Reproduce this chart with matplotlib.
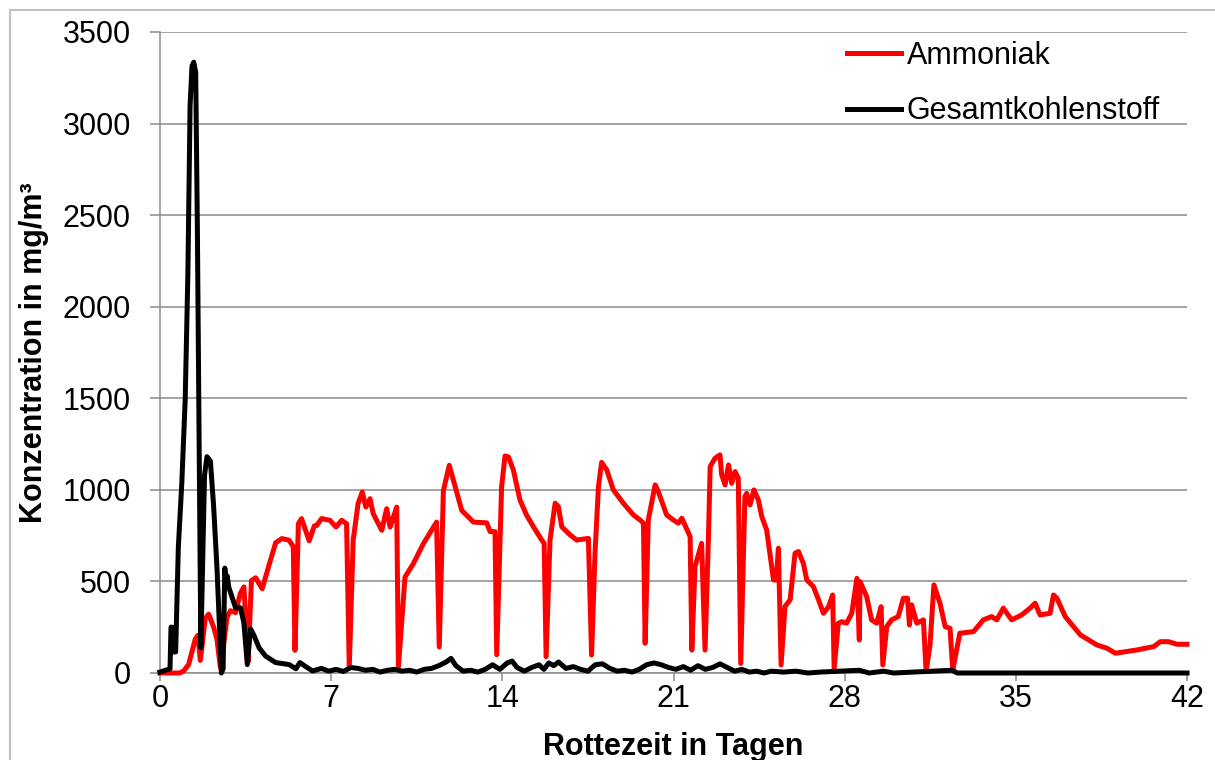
import matplotlib
matplotlib.use("Agg")
import matplotlib.pyplot as plt
from matplotlib.patches import Rectangle

plt.rcParams["font.family"] = ["Liberation Sans", "DejaVu Sans"]

# Ammoniak (red)
nh3_day = [0, 0.8, 0.96, 1.17, 1.44, 1.55, 1.65, 1.85, 1.99, 2.19, 2.33, 2.47, 2.6,
           2.74, 2.88, 3.09, 3.29, 3.43, 3.53, 3.6, 3.74, 3.91, 4.18, 4.46, 4.73, 4.98,
           5.28, 5.45, 5.52, 5.66, 5.79, 6.1, 6.31, 6.41, 6.61, 6.95, 7.2, 7.43, 7.63,
           7.74, 7.9, 8.1, 8.27, 8.42, 8.59, 8.72, 9.07, 9.27, 9.41, 9.68, 9.75, 10.02,
           10.36, 10.77, 11.31, 11.42, 11.59, 11.83, 12.34, 12.82, 13.36, 13.5, 13.7,
           13.77, 13.97, 14.11, 14.25, 14.45, 14.72, 14.99, 15.27, 15.61, 15.71, 15.79,
           15.95, 16.16, 16.29, 16.43, 16.77, 17.04, 17.52, 17.65, 17.79, 17.93, 18.06,
           18.27, 18.54, 18.95, 19.36, 19.63, 19.77, 19.84, 19.97, 20.25, 20.38, 20.72,
           20.99, 21.2, 21.34, 21.68, 21.75, 21.88, 22.15, 22.29, 22.43, 22.5, 22.7,
           22.9, 22.97, 23.11, 23.25, 23.38, 23.52, 23.65, 23.75, 23.92, 23.99, 24.13,
           24.29, 24.47, 24.61, 24.81, 25.09, 25.2, 25.29, 25.4, 25.56, 25.77, 25.97,
           26.11, 26.31, 26.45, 26.72, 26.93, 27.13, 27.34, 27.51, 27.57, 27.74, 27.88,
           28.08, 28.29, 28.5, 28.6, 28.63, 28.9, 29.1, 29.31, 29.49, 29.56, 29.72,
           29.92, 30.19, 30.4, 30.57, 30.65, 30.74, 30.95, 31.22, 31.33, 31.49, 31.65,
           31.9, 32.11, 32.31, 32.42, 32.71, 33.27, 33.67, 34.01, 34.22, 34.49, 34.83,
           35.24, 35.58, 35.79, 35.99, 36.4, 36.54, 36.68, 37.02, 37.64, 38.32, 38.73,
           39.07, 39.96, 40.64, 40.91, 41.25, 41.59, 42]
nh3_val = [0, 0, 10, 46, 184, 206, 69, 298, 321, 252, 184, 30, 150,
           305, 340, 330, 436, 470, 252, 60, 505, 520, 460, 590, 711, 734,
           725, 690, 124, 815, 843, 722, 803, 806, 843, 834, 797, 834, 815,
           33, 724, 925, 988, 906, 952, 870, 779, 897, 797, 906, 33, 524,
           597, 706, 824, 142, 997, 1134, 888, 824, 820, 772, 772,
           100, 1017, 1185, 1180, 1109, 945, 863, 799, 726, 708, 89,
           726, 927, 909, 799, 754, 726, 735, 98, 653, 1017, 1150,
           1109, 1000, 927, 863, 836, 818, 162, 836, 1027, 990, 863,
           836, 818, 845, 745, 125, 581, 708, 125, 745, 1127, 1173,
           1191, 1082, 1027, 1136, 1036, 1100, 1063, 52, 963, 981, 918,
           1000, 945, 854, 781, 508, 508, 681, 44, 363, 400, 654,
           663, 599, 508, 472, 400, 326, 362, 426, 25, 272, 280,
           272, 326, 517, 180, 499, 417, 290, 272, 362, 44, 253,
           290, 308, 408, 408, 262, 372, 272, 290, 7, 153, 481,
           380, 253, 244, 16, 217, 226, 290, 308, 290, 354, 290,
           317, 354, 381, 317, 326, 426, 408, 308, 208, 153, 135,
           108, 126, 144, 171, 171, 157, 157]

# Gesamtkohlenstoff (black)
tc_day = [0, 0.41, 0.45, 0.5, 0.55, 0.64, 0.75, 0.89, 1.03, 1.14, 1.23, 1.31, 1.38,
          1.46, 1.53, 1.6, 1.67, 1.74, 1.82, 1.92, 2.06, 2.19, 2.33, 2.44, 2.51, 2.58,
          2.65, 2.7, 2.75, 2.81, 2.95, 3.09, 3.29, 3.43, 3.57, 3.7, 3.84, 4.05, 4.32,
          4.73, 5.28, 5.56, 5.72, 5.97, 6.24, 6.6, 6.9, 7.2, 7.5, 7.8, 8.1, 8.4, 8.7,
          9.0, 9.3, 9.6, 9.9, 10.2, 10.5, 10.8, 11.1, 11.4, 11.7, 11.9, 12.1, 12.4,
          12.7, 13.0, 13.3, 13.6, 13.9, 14.2, 14.4, 14.6, 14.9, 15.2, 15.5, 15.7, 15.9,
          16.1, 16.3, 16.6, 16.9, 17.2, 17.5, 17.8, 18.1, 18.4, 18.7, 19.0, 19.3, 19.6,
          19.9, 20.2, 20.5, 20.8, 21.1, 21.4, 21.7, 22.0, 22.3, 22.6, 22.9, 23.2, 23.5,
          23.8, 24.1, 24.4, 24.7, 25.0, 25.5, 26.0, 26.5, 27.0, 28.6, 29.0, 29.6, 30.0,
          32.4, 32.6, 42]
tc_val = [5, 23, 250, 250, 115, 115, 688, 1032, 1491, 2179, 3097, 3315, 3335,
          3280, 2409, 1262, 138, 573, 1078, 1181, 1158, 918, 573, 229, 0, 23,
          573, 500, 530, 470, 413, 356, 356, 275, 46, 241, 206, 138, 92,
          57, 46, 23, 57, 34, 11, 25, 10, 20, 8, 30, 25, 15, 20,
          5, 15, 20, 10, 15, 5, 20, 25, 40, 60, 80, 40, 10,
          15, 5, 20, 45, 20, 55, 65, 30, 10, 30, 45, 20, 55,
          40, 60, 25, 35, 20, 10, 45, 50, 25, 10, 15, 5, 20,
          45, 55, 45, 30, 20, 35, 15, 40, 20, 30, 50, 30, 10,
          20, 5, 10, 0, 10, 5, 10, 0, 5, 15, 0, 10, 0,
          15, 0, 0]

x_ticks = [0, 7, 14, 21, 28, 35, 42]
y_ticks = [0, 500, 1000, 1500, 2000, 2500, 3000, 3500]

GRID = "#8c8c8c"
FS = 22
LW = 3.6

fig = plt.figure(figsize=(12.15, 7.6), dpi=100)
ax = fig.add_axes([160 / 1215, 1 - 673 / 760, 1027 / 1215, 641 / 760])

ax.plot(nh3_day, nh3_val, color="#ff0000", linewidth=LW, label="Ammoniak",
        clip_on=False, zorder=3, solid_joinstyle="round")
ax.plot(tc_day, tc_val, color="black", linewidth=LW, label="Gesamtkohlenstoff",
        clip_on=False, zorder=4, solid_joinstyle="round")

ax.set_xlim(0, 42)
ax.set_ylim(0, 3500)
ax.set_xticks(x_ticks)
ax.set_yticks(y_ticks)
ax.tick_params(axis="y", labelsize=FS, length=7, width=1.1, color=GRID, pad=14)
ax.tick_params(axis="x", labelsize=FS, length=6, width=1.1, color=GRID, pad=2)
ax.yaxis.grid(True, color=GRID, linewidth=1.1)
ax.set_axisbelow(True)
for side in ["top", "right"]:
    ax.spines[side].set_visible(False)
for side in ["left", "bottom"]:
    ax.spines[side].set_color(GRID)
    ax.spines[side].set_linewidth(1.1)

ax.set_xlabel("Rottezeit in Tagen", fontsize=FS, fontweight="bold")
ax.set_ylabel("Konzentration in mg/m³", fontsize=FS, fontweight="bold")
ax.xaxis.set_label_coords(0.5, -0.092)
ax.yaxis.set_label_coords(-0.108, 0.5)

ax.legend(loc="upper left", bbox_to_anchor=(838 / 1215, 1 - 32 / 760),
          bbox_transform=fig.transFigure, frameon=False, fontsize=FS,
          handlelength=1.75, handletextpad=0.2, labelspacing=0.82,
          borderaxespad=0, borderpad=0.3)

# thin grey frame around the chart area
fig.patches.append(Rectangle((10 / 1215, -0.1), 1.2, 1.1 - 10 / 760,
                             transform=fig.transFigure, fill=False,
                             edgecolor="#c0c0c0", linewidth=1.5))

fig.savefig("out.png", dpi=100)
